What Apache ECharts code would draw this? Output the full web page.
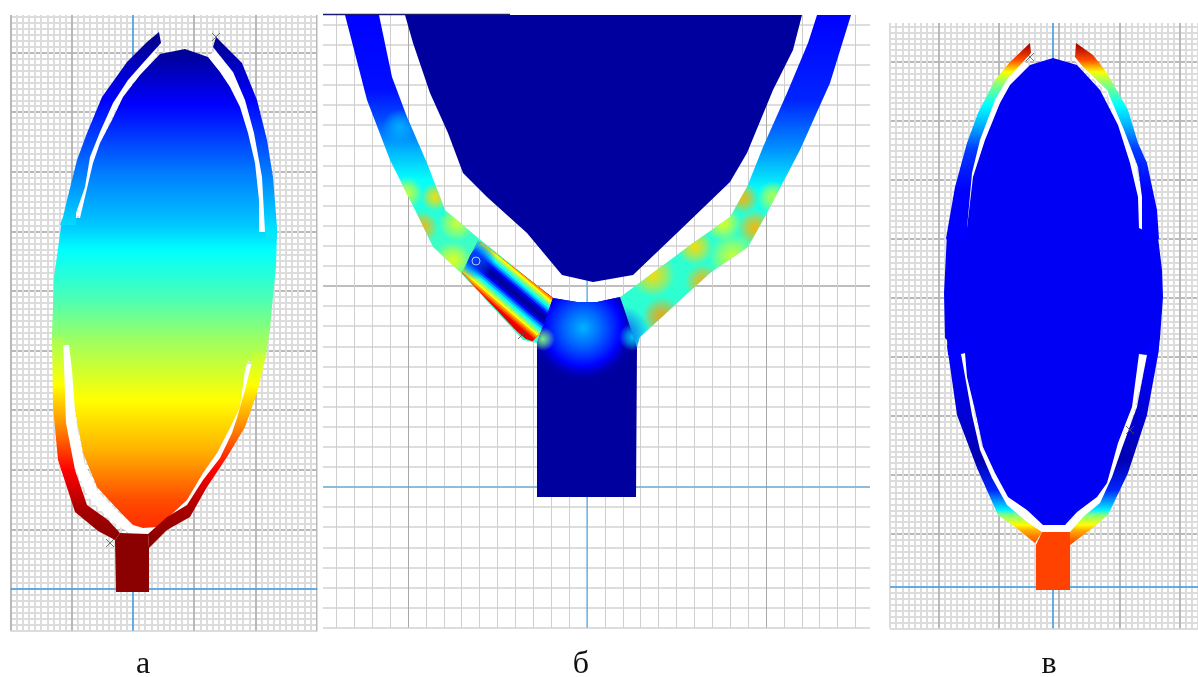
<!DOCTYPE html>
<html><head><meta charset="utf-8">
<style>html,body{margin:0;padding:0;background:#fff}#c{width:1198px;height:677px}</style>
<script src="https://cdn.jsdelivr.net/npm/echarts@6/dist/echarts.min.js"></script>
</head><body><div id="c"></div>
<script>
// ---------- captions ----------
const captions = ['а', 'б', 'в'];

// ---------- panel а : outlines in model units, origin at the blue cross ----------
const A_BODY = [[52,540],[75,532],[87,517],[97,502],[107,482],[115,456],[122,426],[126,389],[126,357],[144,357],[143,322],[139,282],[137,259],[132,229],[119,227],[115,228],[112,219],[107,182],[97,161],[84,136],[70,116],[54,89],[40,76],[24,62],[10,61],[0,64],[-10,74],[-26,91],[-36,102],[-50,136],[-58,179],[-61,219],[-64,244],[-68,244],[-81,242],[-81,256],[-79,312],[-71,369],[-57,371],[-53,371],[-40,426],[-33,446],[-21,469],[-10,492],[7,514],[27,535]];
const A_UL = [[26,557],[28,546],[10,526],[-5,509],[-20,486],[-33,457],[-43,432],[-48,402],[-57,376],[-57,364],[-73,364],[-70,372],[-66,389],[-56,429],[-46,456],[-31,492],[-6,527],[14,547]];
const A_UR = [[83,552],[109,526],[124,489],[134,449],[140,412],[144,362],[144,350],[132,350],[132,357],[129,412],[121,456],[112,489],[100,517],[80,542]];
const A_LL = [[-81,252],[-80,182],[-75,129],[-58,77],[-35,58],[-18,49],[-13,56],[-25,69],[-46,84],[-58,119],[-67,166],[-70,252]];
const A_LR = [[15,55],[34,72],[54,84],[70,109],[87,131],[99,156],[104,171],[112,199],[119,227],[119,236],[134,236],[132,229],[124,196],[112,162],[94,132],[74,102],[57,72],[34,59],[16,41]];
const A_STEM = [[-18,49],[-13,56],[15,55],[16,41],[16,-3],[-17,-3]];
const A_SLOTS = [
  [[-55,373],[-46,425],[-36,452],[-23,481],[-8,505],[7,522],[20,538]],
  [[129,357],[125,410],[118,456],[109,486],[98,510],[78,535]],
  [[-66,244],[-63,170],[-54,125],[-40,95],[-18,72],[0,60],[15,58],[30,68],[62,98],[90,135],[108,175],[116,225]]
];
const A_BODY_H = [62,89,139,189,249,289,339,364,414,484,539];
const A_BODY_V = [.83,.8,.7,.625,.53,.45,.375,.32,.25,.125,.02];
const A_FINGER_H = [49,79,119,159,204,244,359,414,489,549];
const A_FINGER_V = [1,.97,.875,.75,.625,.55,.35,.25,.125,.02];
const A_STEM_V = 1;
const A_MARKS = [[-23,46],[83,552]];

// ---------- panel б ----------
const B_BODY = [[-182,472],[-174,444],[-157,394],[-139,354],[-124,314],[-100,290],[-60,254],[-25,212],[6,205],[46,212],[90,254],[143,305],[160,334],[186,397],[206,437],[215,472]];
const B_LEFT = [[-242,472],[-220,387],[-197,327],[-167,267],[-154,240],[-127,215],[-64,147],[-50,144],[-34,189],[-110,250],[-142,277],[-160,324],[-180,370],[-195,410],[-208,472]];
const B_RIGHT = [[230,472],[264,472],[243,404],[213,337],[180,274],[161,240],[123,214],[53,150],[50,140],[33,190],[36,192],[106,244],[143,270],[160,300],[176,340],[200,394],[221,444]];
const B_STEM = [[-50,144],[-34,189],[-10,185],[10,185],[33,190],[50,140],[49,-10],[-50,-10]];
const B_STRIPE = [[-109,247],[-34,189],[-50,144],[-64,149],[-125,214]];
const B_STRIPE_CORE = [[-117,232],[-38,165]];
const B_STRIPE_DIST = [28,24,22,20,18,16,14,12,10,8,6,4,2];
const B_STRIPE_V = [.9,.88,.8,.72,.62,.54,.46,.38,.3,.2,.12,.06,.03];
const B_LEFT_H = [144,217,267,307,337,367,397,472];
const B_LEFT_V = [.42,.45,.42,.38,.3,.2,.14,.125];
const B_RIGHT_H = [142,187,267,297,337,387,472];
const B_RIGHT_V = [.4,.42,.42,.38,.27,.16,.125];
const B_RIGHT_SPOTS = [[75,170,20,.72],[116,205,18,.7],[66,212,22,.66],[108,240,18,.66],[136,264,18,.6],[168,259,18,.7],[156,289,16,.7],[146,230,24,.58],[186,290,16,.56],[33,152,30,.2]];
const B_LEFT_SPOTS = [[-180,294,16,.58],[-152,290,14,.66],[-165,260,16,.7],[-134,227,18,.6],[-130,264,18,.58],[-187,360,18,.3]];
const B_NODE_SPOT = [-113,229,22,.2];
const B_STEM_SPOTS = [[-44,148,12,.5],[46,150,14,.33]];
const B_STEM_GLOW = [-4,159,55];
const B_STEM_GLOW_POS = [0,.35,.7,1];
const B_STEM_GLOW_V = [.3,.22,.125,.03];
const B_BODY_V = .03;
const B_TOP_EDGE = [[-264,472.5],[-77,472.5]];
const B_MARKS = [[-65,152]];
const B_RING = [[-111,226]];

// ---------- panel в ----------
const V_BODY = [[0,529],[24,522],[47,497],[65,462],[77,424],[85,390],[86,359],[105,350],[109,317],[110,290],[107,249],[105,232],[94,232],[86,233],[79,180],[65,144],[54,104],[44,90],[24,75],[12,62],[-10,62],[-26,77],[-45,90],[-58,114],[-70,140],[-78,177],[-86,210],[-88,234],[-92,233],[-105,232],[-106,247],[-108,249],[-109,294],[-106,354],[-91,359],[-86,359],[-80,410],[-68,447],[-53,484],[-43,502],[-23,522]];
const V_UL = [[-23,544],[-22,534],[-30,525],[-45,509],[-58,487],[-73,447],[-81,414],[-86,359],[-86,348],[-107,348],[-105,360],[-98,400],[-86,444],[-75,474],[-58,507],[-43,525]];
const V_UR = [[23,544],[40,532],[54,514],[75,477],[85,444],[94,424],[104,377],[106,348],[89,348],[89,390],[85,420],[71,457],[54,497],[30,520],[22,530]];
const V_LL = [[-106,242],[-96,172],[-76,119],[-55,72],[-38,60],[-18,44],[-11,55],[-26,65],[-46,82],[-61,109],[-73,137],[-81,172],[-92,233],[-92,242]];
const V_LR = [[17,55],[30,70],[47,84],[59,110],[69,139],[84,180],[94,232],[94,242],[106,242],[105,232],[94,172],[75,114],[55,72],[37,57],[17,42]];
const V_STEM = [[-17,42],[-11,55],[17,55],[17,42],[17,-3],[-17,-3]];
const V_SLOTS = [
  [[-88,359],[-83,412],[-71,445],[-56,486],[-44,505],[-26,523]],
  [[89,359],[84,395],[74,440],[58,497],[35,520],[24,530]],
  [[-90,233],[-84,175],[-76,140],[-59,112],[-45,86],[-26,71],[-10,58],[14,58],[28,72],[46,87],[62,125],[76,175],[90,232]]
];
const V_FINGER_H = [42,47,57,62,72,77,97,127,167,232,397,437,462,482,502,515,527,542];
const V_FINGER_V = [.81,.78,.7,.625,.5,.36,.16,.05,.08,.125,.125,.18,.3,.375,.5,.62,.8,.97];
const V_BODY_V = .115;
const V_STEM_V = .81;
const V_MARKS = [[-23,530],[77,157]];

// ---------- grid tick spacing and darker rulings ----------
const A_X = {step:6.12, first:-20, last:30, end:185,  majors:[-20,-10,10,20,30]};
const A_Y = {step:5.96, first:-7,  last:96, end:574,  majors:[10,20,30,40,50,60,70,80,90]};
const B_X = {step:17.9, first:-15, last:15, end:283,  majors:[-10,10]};
const B_Y = {step:20.1, first:-7,  last:23, end:472,  majors:[10]};
const V_X = {step:6.03, first:-27, last:24, end:145,  majors:[-19,-9,1,11,21]};
const V_Y = {step:5.9,  first:-7,  last:95, end:564,  majors:[9,19,29,39,49,59,69,79,89]};

// ---------- jet colour scale ----------
const JET_POS = [0,.125,.375,.625,.875,1];
const JET_RGB = [[0,0,127],[0,0,255],[0,255,255],[255,255,0],[255,0,0],[139,0,0]];
function jet(t, a) {
  t = Math.max(0, Math.min(1, t));
  let i = 0; while (i < JET_POS.length - 2 && t > JET_POS[i + 1]) i++;
  const f = (t - JET_POS[i]) / (JET_POS[i + 1] - JET_POS[i]);
  const c = JET_RGB[i].map((v, k) => Math.round(v + (JET_RGB[i + 1][k] - v) * f));
  return 'rgba(' + c.join(',') + ',' + (a === undefined ? 1 : a) + ')';
}

// ---------- fill builders, all through the axis scale ----------
const G = echarts.graphic;
const solid = v => () => jet(v);
const field = (H, V) => api => {
  const y0 = api.coord([0, H[0]])[1], y1 = api.coord([0, H[H.length - 1]])[1];
  const span = H[H.length - 1] - H[0];
  return new G.LinearGradient(0, y0, 0, y1, H.map((h, i) => ({offset: (h - H[0]) / span, color: jet(V[i])})), true);
};
const spot = s => api => {
  const c = api.coord([s[0], s[1]]);
  return new G.RadialGradient(c[0], c[1], s[2], [{offset: 0, color: jet(s[3], .95)}, {offset: .5, color: jet(s[3], .55)}, {offset: 1, color: jet(s[3], 0)}], true);
};
const glow = (g, P, V) => api => {
  const c = api.coord([g[0], g[1]]);
  return new G.RadialGradient(c[0], c[1], g[2], P.map((p, i) => ({offset: p, color: jet(V[i], i === P.length - 1 ? 0 : 1)})), true);
};

// ---------- layers, painted in order ----------
const aFinger = field(A_FINGER_H, A_FINGER_V), vFinger = field(V_FINGER_H, V_FINGER_V);
const layersA = [
  ...A_SLOTS.map(p => ({line: p, width: 11})),
  {poly: A_BODY, fill: field(A_BODY_H, A_BODY_V)},
  {poly: A_UL, fill: aFinger}, {poly: A_UR, fill: aFinger},
  {poly: A_LL, fill: aFinger}, {poly: A_LR, fill: aFinger},
  {poly: A_STEM, fill: solid(A_STEM_V)}
];
const layersB = [
  {poly: B_BODY, fill: solid(B_BODY_V)},
  {poly: B_LEFT, fill: field(B_LEFT_H, B_LEFT_V)},
  ...B_LEFT_SPOTS.map(s => ({poly: B_LEFT, fill: spot(s)})),
  {poly: B_RIGHT, fill: field(B_RIGHT_H, B_RIGHT_V)},
  ...B_RIGHT_SPOTS.map(s => ({poly: B_RIGHT, fill: spot(s)})),
  ...B_STRIPE_DIST.map((d, i) => ({line: B_STRIPE_CORE, width: 2 * d, color: jet(B_STRIPE_V[i]), clip: B_STRIPE})),
  {poly: B_STRIPE, fill: spot(B_NODE_SPOT)},
  {poly: B_STEM, fill: solid(B_BODY_V)},
  {poly: B_STEM, fill: glow(B_STEM_GLOW, B_STEM_GLOW_POS, B_STEM_GLOW_V)},
  ...B_STEM_SPOTS.map(s => ({poly: B_STEM, fill: spot(s)}))
];
const layersV = [
  ...V_SLOTS.map(p => ({line: p, width: 9})),
  {poly: V_BODY, fill: solid(V_BODY_V)},
  {poly: V_UL, fill: vFinger}, {poly: V_UR, fill: vFinger},
  {poly: V_LL, fill: vFinger}, {poly: V_LR, fill: vFinger},
  {poly: V_STEM, fill: solid(V_STEM_V)}
];

function shapeSeries(layers, idx) {
  return {
    type: 'custom', xAxisIndex: idx, yAxisIndex: idx, coordinateSystem: 'cartesian2d', silent: true, z: 5,
    data: layers.map((_, i) => [i, 0]),
    renderItem: (params, api) => {
      const l = layers[params.dataIndex];
      if (l.line) {
        const el = {type: 'polyline', shape: {points: l.line.map(p => api.coord(p))},
          style: {stroke: l.color || '#fff', lineWidth: l.width, fill: 'none'}};
        if (!l.clip) return el;
        return {type: 'group', clipPath: {type: 'polygon', shape: {points: l.clip.map(p => api.coord(p))}}, children: [el]};
      }
      return {type: 'polygon', shape: {points: l.poly.map(p => api.coord(p))}, style: {fill: l.fill(api)}};
    }
  };
}
const crossLine = (X, Y, idx, color, width) => [
  [[X.step * X.first, 0], [X.end, 0]],
  [[0, Y.step * Y.first], [0, Y.end]]
].map(d => ({type: 'line', xAxisIndex: idx, yAxisIndex: idx, data: d, symbol: 'none', silent: true, z: 3,
  lineStyle: {color, width}}));
const XMARK = 'path://M0 0L10 10M10 0L0 10';
const marks = (d, idx, symbol, color) => ({type: 'scatter', xAxisIndex: idx, yAxisIndex: idx, data: d, symbol, symbolSize: 8, silent: true, z: 7,
  itemStyle: {color: 'none', borderColor: color, borderWidth: 1}});

function lineColors(a, minor, major) {
  return Array.from({length: a.last - a.first + 1}, (_, i) => a.majors.includes(a.first + i) ? major : minor);
}
function valueAxis(a, gridIndex, minor, major, width) {
  return {
    type: 'value', gridIndex, min: +(a.step * a.first).toFixed(3), max: a.end, interval: a.step,
    axisLine: {show: false}, axisTick: {show: false}, axisLabel: {show: false},
    splitLine: {show: true, showMaxLine: false, lineStyle: {color: lineColors(a, minor, major), width}}
  };
}
function gridBox(X, Y, ox, oy) {
  const left = ox + X.step * X.first, top = oy - Y.end;
  return {left, top, width: X.end - X.step * X.first, height: Y.end - Y.step * Y.first, containLabel: false};
}

const chart = echarts.init(document.getElementById('c'), null, {renderer: 'canvas'});
chart.setOption({
  animation: false, backgroundColor: '#fff',
  grid: [gridBox(A_X, A_Y, 133, 589), gridBox(B_X, B_Y, 587, 487), gridBox(V_X, V_Y, 1053, 587)],
  xAxis: [valueAxis(A_X, 0, '#dcdcdc', '#b9b9b9', 2), valueAxis(B_X, 1, '#cfcfcf', '#a8a8a8', 1), valueAxis(V_X, 2, '#dcdcdc', '#b9b9b9', 2)],
  yAxis: [valueAxis(A_Y, 0, '#dcdcdc', '#b9b9b9', 2), valueAxis(B_Y, 1, '#d2d2d2', '#a8a8a8', 1.5), valueAxis(V_Y, 2, '#dcdcdc', '#b9b9b9', 2)],
  series: [
    ...crossLine(A_X, A_Y, 0, '#3d9be9', 1.5),
    ...crossLine(B_X, B_Y, 1, '#3f9ad6', 1),
    ...crossLine(V_X, V_Y, 2, '#3d9be9', 1.5),
    shapeSeries(layersA, 0), shapeSeries(layersB, 1), shapeSeries(layersV, 2),
    {type: 'line', xAxisIndex: 1, yAxisIndex: 1, data: B_TOP_EDGE, symbol: 'none', silent: true, z: 6, clip: false, lineStyle: {color: '#1a1a70', width: 1.5}},
    marks(A_MARKS, 0, XMARK, '#555'), marks(B_MARKS, 1, XMARK, '#555'), marks(V_MARKS, 2, XMARK, '#555'),
    marks(B_RING, 1, 'circle', '#e8e8ff')
  ],
  graphic: [
    {type: 'rect', z: 100, silent: true, shape: {x: 317.5, y: 0, width: 5.5, height: 640}, style: {fill: '#fff'}},
    ...captions.map((t, i) => ({type: 'text', z: 101, silent: true, x: [143, 581, 1049][i], y: 665,
      style: {text: t, font: '32px "Liberation Serif", serif', fill: '#111', textAlign: 'center', textVerticalAlign: 'middle'}}))
  ]
});
</script></body></html>
